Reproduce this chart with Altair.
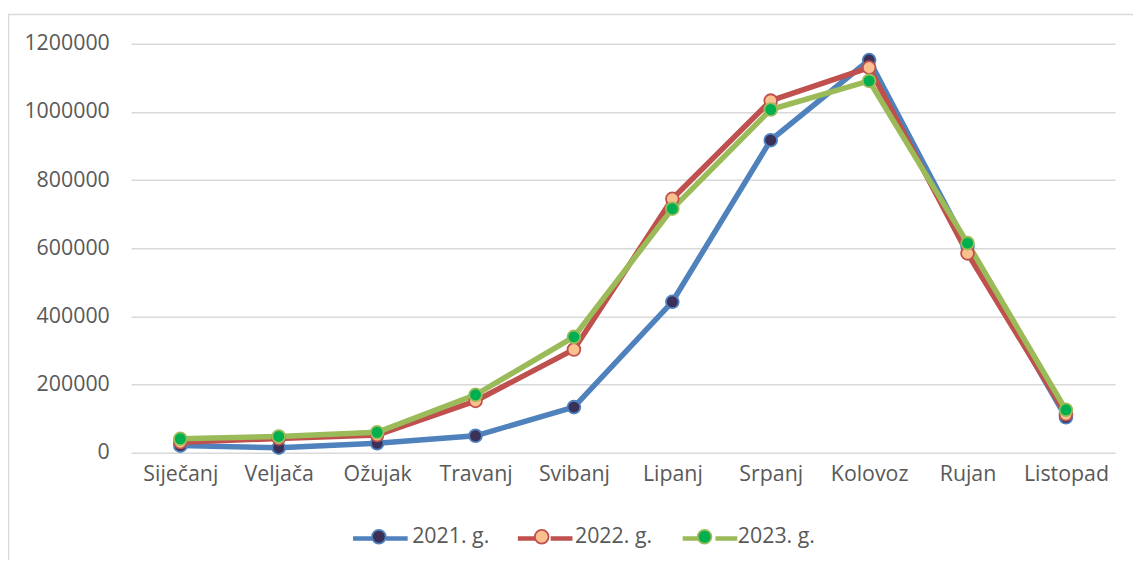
import altair as alt
import pandas as pd

months = ["Siječanj", "Veljača", "Ožujak", "Travanj", "Svibanj",
          "Lipanj", "Srpanj", "Kolovoz", "Rujan", "Listopad"]
years = ["2021. g.", "2022. g.", "2023. g."]
v2021 = [21000, 15000, 28000, 50000, 134000, 443000, 917000, 1152000, 605000, 104000]
v2022 = [31000, 42000, 52000, 152000, 303000, 745000, 1033000, 1130000, 585000, 113000]
v2023 = [41000, 48000, 60000, 170000, 340000, 716000, 1007000, 1091000, 615000, 126000]
y_ticks = [0, 200000, 400000, 600000, 800000, 1000000, 1200000]

rows = []
for yr, vals in zip(years, [v2021, v2022, v2023]):
    for m, v in zip(months, vals):
        rows.append({"Mjesec": m, "Godina": yr, "Serija": yr, "Vrijednost": v})
df = pd.DataFrame(rows)

line_colors = ["#4F81BD", "#C0504D", "#9BBB59"]
fill_colors = ["#3B3057", "#FAC090", "#00B050"]
FONT = "Open Sans"
TXT = "#595959"
FS = 21.5

x = alt.X("Mjesec:N", sort=months, scale=alt.Scale(type="point", padding=0.5),
          axis=alt.Axis(title=None, labelAngle=0, domain=False, ticks=False, grid=False,
                        labelPadding=11, labelFontSize=FS, labelColor=TXT, labelFont=FONT))
y = alt.Y("Vrijednost:Q", scale=alt.Scale(domain=[0, 1200000]),
          axis=alt.Axis(title=None, values=y_ticks, format="d", domain=False, ticks=False,
                        gridColor="#D9D9D9", gridWidth=1.5, labelPadding=22, labelFontSize=FS,
                        labelColor=TXT, labelFont=FONT))

leg_common = dict(orient="none", legendX=221, legendY=468, direction="horizontal",
                  title=None, labelFontSize=FS, labelFont=FONT, labelColor=TXT,
                  symbolSize=3025, labelOffset=5, padding=0)

circle_path = "M -1 0 M 1 0 M 0.25 0 A 0.25 0.25 0 1 1 -0.25 0 A 0.25 0.25 0 1 1 0.25 0 Z"
line_path = "M -1 0 L -0.2 0 M 0.2 0 L 1 0"

lines = alt.Chart(df).mark_line(strokeWidth=5.5).encode(
    x=x, y=y,
    color=alt.Color("Godina:N", scale=alt.Scale(domain=years, range=line_colors),
                    legend=alt.Legend(symbolType=line_path, symbolStrokeWidth=4.5,
                                      labelExpr="''", columnPadding=92, **leg_common)),
)

pt_leg = alt.Legend(symbolType=circle_path, symbolStrokeWidth=1.8, columnPadding=21, **leg_common)
points = alt.Chart(df).mark_point(filled=True, size=165, strokeWidth=1.8, opacity=1).encode(
    x=x, y=y,
    fill=alt.Fill("Serija:N", scale=alt.Scale(range=fill_colors), legend=pt_leg),
    stroke=alt.Stroke("Serija:N", scale=alt.Scale(range=line_colors), legend=pt_leg),
)

border = alt.Chart(alt.Data(values=[{}])).mark_rect(
    fill="transparent", stroke="#D9D9D9", strokeWidth=1.5
).encode(x=alt.value(-123.5), x2=alt.value(1030), y=alt.value(-29.5), y2=alt.value(600))

chart = alt.layer(border, lines, points).properties(
    width=991, height=412,
    autosize=alt.AutoSizeParams(type="none"),
    padding={"left": 124, "top": 34, "right": 18, "bottom": 106},
).configure_view(stroke=None)

chart.save("out.html", embed_options={"renderer": "svg", "actions": False})
